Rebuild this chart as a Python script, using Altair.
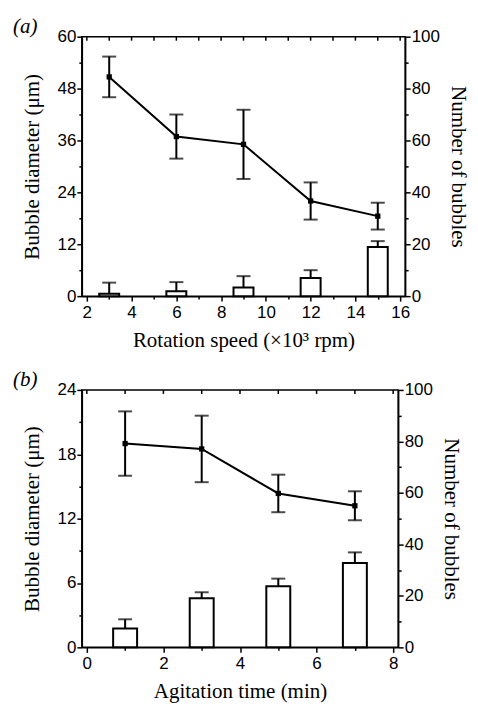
import altair as alt
import pandas as pd

# Panel (a)
a_speed = [3, 6, 9, 12, 15]
a_diam = [50.7, 36.9, 35.1, 22.0, 18.5]
a_diam_err = [4.7, 5.1, 8.0, 4.3, 3.1]
a_count = [0.9, 1.9, 3.3, 7.0, 18.9]
a_count_err = [4.3, 3.5, 4.4, 3.0, 2.3]

# Panel (b)
b_time = [1, 3, 5, 7]
b_diam = [19.0, 18.5, 14.35, 13.2]
b_diam_err = [3.0, 3.1, 1.75, 1.35]
b_count = [7.3, 19.1, 23.7, 32.8]
b_count_err = [3.6, 2.3, 3.0, 4.1]

a_xticks = list(range(2, 17))
b_xticks = list(range(0, 9))
a_yticks = list(range(0, 61, 6))
b_yticks = list(range(0, 25, 3))
count_ticks = list(range(0, 101, 10))

SERIF = "Liberation Serif"
SANS = "Liberation Sans"


def axis(title, values, major, orient, angle=None, title_pad=8, label_pad=1):
    kw = dict(
        title=title,
        values=values,
        orient=orient,
        labelExpr=f"datum.value % {major} === 0 ? datum.label : ''",
        tickSize={"condition": {"test": f"datum.value % {major} !== 0", "value": 3}, "value": 5},
        tickColor="black",
        tickWidth=1.5,
        domainColor="black",
        domainWidth=1.5,
        labelFont=SANS,
        labelFontSize=17,
        labelColor="black",
        labelPadding=label_pad,
        labelOverlap=False,
        labelFlush=False,
        titleFont=SERIF,
        titleFontSize=21,
        titleFontWeight="normal",
        titleColor="black",
        titlePadding=title_pad,
        grid=False,
    )
    if angle is not None:
        kw["titleAngle"] = angle
    return alt.Axis(**kw)


def panel(label, xs, diam, derr, cnt, cerr, xdom, xticks, xtitle, ydom, yticks, ymajor,
          width, height, barsize, label_dx):
    df = pd.DataFrame({
        "x": xs,
        "d": diam,
        "dlo": [v - e for v, e in zip(diam, derr)],
        "dhi": [v + e for v, e in zip(diam, derr)],
        "c": cnt,
        "chi": [v + e for v, e in zip(cnt, cerr)],
    })
    tdf = pd.DataFrame({"t": xticks})
    ldf = pd.DataFrame({"lab": [label]})
    xaxis = axis(xtitle, xticks, 2, "bottom", title_pad=9, label_pad=3)
    X = alt.X("x:Q", scale=alt.Scale(domain=xdom, nice=False, zero=False), axis=xaxis)
    yl_scale = alt.Scale(domain=ydom, nice=False)
    yr_scale = alt.Scale(domain=[0, 100], nice=False)
    yl_axis = axis("Bubble diameter (μm)", yticks, ymajor, "left", title_pad=15, label_pad=1)
    yr_axis = axis("Number of bubbles", count_ticks, 20, "right", angle=90, title_pad=8, label_pad=1)

    base = alt.Chart(df)
    bars = base.mark_bar(size=barsize, fill="white", stroke="black", strokeWidth=2).encode(
        x=X, y=alt.Y("c:Q", scale=yr_scale, axis=yr_axis))
    bar_err = base.mark_rule(color="black", strokeWidth=2).encode(
        x=X, y=alt.Y("c:Q", scale=yr_scale, axis=yr_axis), y2="chi:Q")
    bar_cap = base.mark_tick(orient="horizontal", size=14, thickness=2, color="black").encode(
        x=X, y=alt.Y("chi:Q", scale=yr_scale, axis=yr_axis))
    right = alt.layer(bars, bar_err, bar_cap)

    d_err = base.mark_rule(color="black", strokeWidth=2).encode(
        x=X, y=alt.Y("dlo:Q", scale=yl_scale, axis=yl_axis), y2="dhi:Q")
    cap_lo = base.mark_tick(orient="horizontal", size=14, thickness=2, color="black").encode(
        x=X, y=alt.Y("dlo:Q", scale=yl_scale, axis=yl_axis))
    cap_hi = base.mark_tick(orient="horizontal", size=14, thickness=2, color="black").encode(
        x=X, y=alt.Y("dhi:Q", scale=yl_scale, axis=yl_axis))
    line = base.mark_line(color="black", strokeWidth=2).encode(
        x=X, y=alt.Y("d:Q", scale=yl_scale, axis=yl_axis))
    pts = base.mark_point(shape="square", filled=True, size=28, color="black", opacity=1).encode(
        x=X, y=alt.Y("d:Q", scale=yl_scale, axis=yl_axis))
    top_ticks = alt.Chart(tdf).mark_rule(color="black", strokeWidth=1.5).encode(
        x=alt.X("t:Q", scale=alt.Scale(domain=xdom, nice=False, zero=False), axis=xaxis),
        y=alt.value(0), y2=alt.value(4))
    tag = alt.Chart(ldf).mark_text(align="left", baseline="alphabetic", font=SERIF,
                                   fontStyle="italic", fontSize=21, color="black").encode(
        text="lab:N", x=alt.value(label_dx), y=alt.value(-4))
    left = alt.layer(d_err, cap_lo, cap_hi, line, pts, top_ticks, tag)

    return alt.layer(right, left).resolve_scale(y="independent").properties(
        width=width, height=height)


pa = panel("(a)", a_speed, a_diam, a_diam_err, a_count, a_count_err, [2, 16], a_xticks,
           "Rotation speed (×10³ rpm)", [0, 60], a_yticks, 12, 324, 260, 20, -69)
pb = panel("(b)", b_time, b_diam, b_diam_err, b_count, b_count_err, [0, 8], b_xticks,
           "Agitation time (min)", [0, 24], b_yticks, 6, 317, 258, 24, -69)

chart = alt.vconcat(pa, pb, spacing=17).configure_view(
    stroke="black", strokeWidth=1.5
).properties(padding={"left": 4, "top": 6, "right": 0, "bottom": 0}, background="white")

chart.save("out.html", embed_options={"renderer": "svg", "actions": False})
